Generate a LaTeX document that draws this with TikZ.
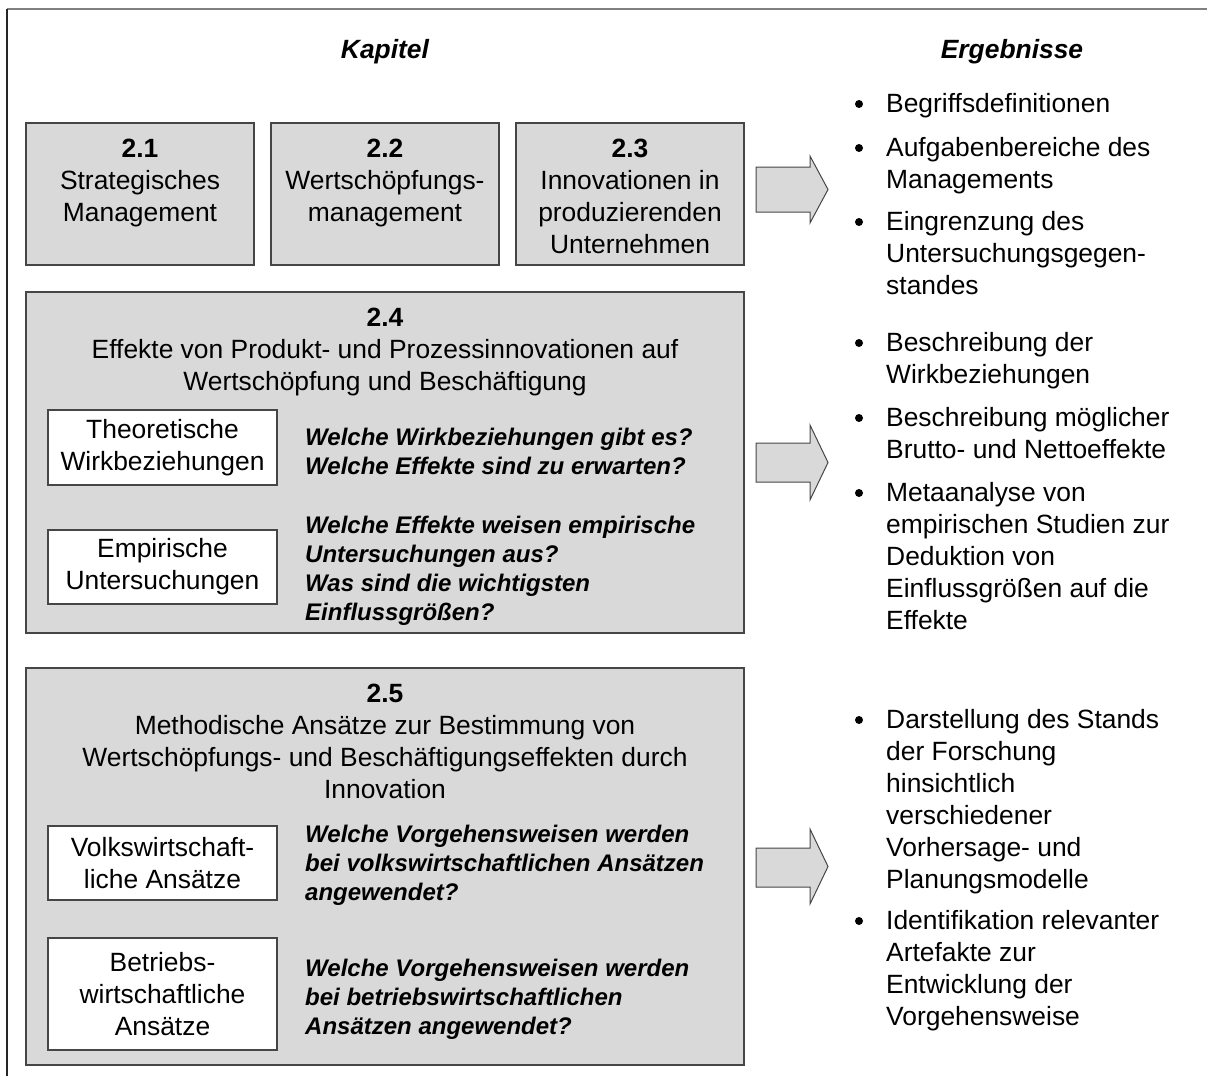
\documentclass[tikz,border=0pt]{standalone}
\usepackage{fontspec}
\setmainfont{Liberation Sans}
\newcommand\mainsz{\fontsize{26.4}{32}\selectfont}
\newcommand\qsz{\fontsize{24}{29}\selectfont\bfseries\itshape}
\definecolor{boxgray}{RGB}{217,217,217}
\definecolor{edge}{RGB}{70,70,70}
\tikzset{
  chapbox/.style={draw=edge, line width=1.3pt, fill=boxgray, anchor=north west, inner sep=0pt, outer sep=0pt},
  subbox/.style={draw=edge, line width=1.3pt, fill=white, anchor=north west, inner sep=0pt, outer sep=0pt},
  ctext/.style={align=center, inner sep=0pt, font=\mainsz},
  qtext/.style={align=left, inner sep=0pt, anchor=north west, font=\qsz},
  rtext/.style={align=left, inner sep=0pt, anchor=north west, font=\mainsz},
  bulletdot/.style={circle, fill=black, inner sep=0pt, minimum size=8pt},
  blockarrow/.style={draw=edge, line width=1pt, fill=boxgray, line join=miter},
  heading/.style={inner sep=0pt, font=\mainsz\bfseries\itshape}
}
\begin{document}
\begin{tikzpicture}[x=1pt, y=-1pt]
\useasboundingbox (0,0) rectangle (1207,1076);
% outer frame (top and left only)
\draw[line width=2pt, gray] (1207,9) -- (7,9);
\draw[line width=2pt, black!85] (7,9) -- (7,1076);

% headings
\node[heading] (hkap) at (385,52) {Kapitel};
\node[heading] (herg) at (1012,52) {Ergebnisse};

% chapter boxes 2.1 - 2.3
\node[chapbox, minimum width=228pt, minimum height=142pt] (b21) at (26,123) {};
\node[chapbox, minimum width=228pt, minimum height=142pt] (b22) at (271,123) {};
\node[chapbox, minimum width=228pt, minimum height=142pt] (b23) at (516,123) {};
\node[ctext, anchor=north] (t21) at (140,134.6) {\strut\textbf{2.1}\\Strategisches\\Management};
\node[ctext, anchor=north] (t22) at (385,134.6) {\strut\textbf{2.2}\\Wertschöpfungs-\\management};
\node[ctext, anchor=north] (t23) at (630,134.6) {\strut\textbf{2.3}\\Innovationen in\\produzierenden\\Unternehmen};

% chapter box 2.4
\node[chapbox, minimum width=718pt, minimum height=341pt] (b24) at (26,292) {};
\node[ctext, anchor=north] (t24) at (385,303.6) {\strut\textbf{2.4}\\Effekte von Produkt- und Prozessinnovationen auf\\Wertschöpfung und Beschäftigung};
\node[subbox, minimum width=229pt, minimum height=75pt] (s241) at (48,410) {};
\node[ctext] (u241) at (s241.center) {Theoretische\\Wirkbeziehungen};
\node[subbox, minimum width=229pt, minimum height=74pt] (s242) at (48,530) {};
\node[ctext] (u242) at (s242.center) {Empirische\\Untersuchungen};
\node[qtext] (q241) at (305,424.7) {\strut Welche Wirkbeziehungen gibt es?\\Welche Effekte sind zu erwarten?};
\node[qtext] (q242) at (305,512.7) {\strut Welche Effekte weisen empirische\\Untersuchungen aus?\\Was sind die wichtigsten\\Einflussgrößen?};

% chapter box 2.5
\node[chapbox, minimum width=718pt, minimum height=397pt] (b25) at (26,668) {};
\node[ctext, anchor=north] (t25) at (385,679.6) {\strut\textbf{2.5}\\Methodische Ansätze zur Bestimmung von\\Wertschöpfungs- und Beschäftigungseffekten durch\\Innovation};
\node[subbox, minimum width=229pt, minimum height=74pt] (s251) at (48,826) {};
\node[ctext] (u251) at (s251.center) {Volkswirtschaft-\\liche Ansätze};
\node[subbox, minimum width=229pt, minimum height=112pt] (s252) at (48,938) {};
\node[ctext] (u252) at (s252.center) {Betriebs-\\wirtschaftliche\\Ansätze};
\node[qtext] (q251) at (305,821.7) {\strut Welche Vorgehensweisen werden\\bei volkswirtschaftlichen Ansätzen\\angewendet?};
\node[qtext] (q252) at (305,955.7) {\strut Welche Vorgehensweisen werden\\bei betriebswirtschaftlichen\\Ansätzen angewendet?};

% block arrows
\draw[blockarrow] (756,167) -- (810,167) -- (810,156) -- (828,189.5) -- (810,223) -- (810,212) -- (756,212) -- cycle;
\draw[blockarrow] (756,443) -- (810,443) -- (810,425) -- (828,462.5) -- (810,500) -- (810,482) -- (756,482) -- cycle;
\draw[blockarrow] (756,848) -- (810,848) -- (810,829) -- (828,866.5) -- (810,904) -- (810,887) -- (756,887) -- cycle;

% results
\node[bulletdot] (d1) at (859,104) {};
\node[rtext] (r1) at (886,89.6) {\strut Begriffsdefinitionen};
\node[bulletdot] (d2) at (859,148) {};
\node[rtext] (r2) at (886,133.6) {\strut Aufgabenbereiche des\\Managements};
\node[bulletdot] (d3) at (859,222) {};
\node[rtext] (r3) at (886,207.6) {\strut Eingrenzung des\\Untersuchungsgegen-\\standes};
\node[bulletdot] (d4) at (859,343) {};
\node[rtext] (r4) at (886,328.6) {\strut Beschreibung der\\Wirkbeziehungen};
\node[bulletdot] (d5) at (859,418) {};
\node[rtext] (r5) at (886,403.6) {\strut Beschreibung möglicher\\Brutto- und Nettoeffekte};
\node[bulletdot] (d6) at (859,493) {};
\node[rtext] (r6) at (886,478.6) {\strut Metaanalyse von\\empirischen Studien zur\\Deduktion von\\Einflussgrößen auf die\\Effekte};
\node[bulletdot] (d7) at (859,720) {};
\node[rtext] (r7) at (886,705.6) {\strut Darstellung des Stands\\der Forschung\\hinsichtlich\\verschiedener\\Vorhersage- und\\Planungsmodelle};
\node[bulletdot] (d8) at (859,921) {};
\node[rtext] (r8) at (886,906.6) {\strut Identifikation relevanter\\Artefakte zur\\Entwicklung der\\Vorgehensweise};
\end{tikzpicture}
\end{document}
